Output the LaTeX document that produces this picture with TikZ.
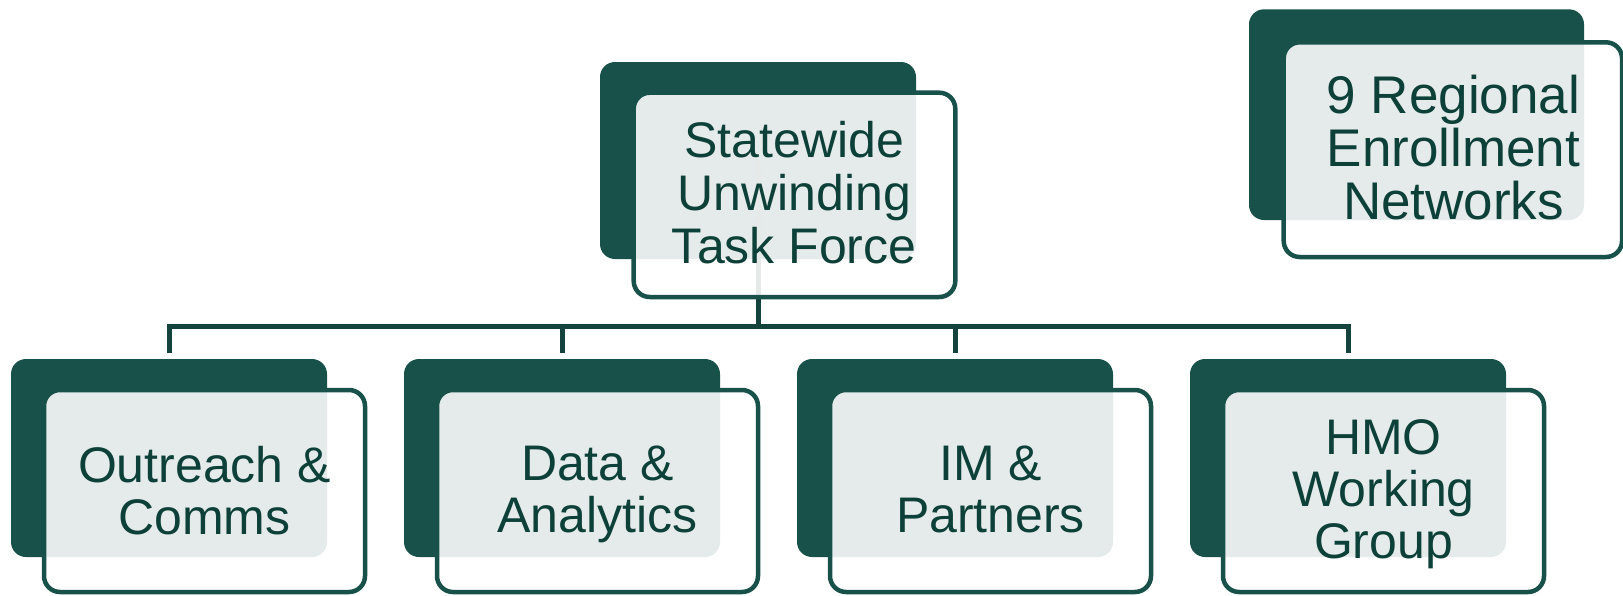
\documentclass[tikz,border=0pt]{standalone}
\usepackage{fontspec}
\setmainfont{Liberation Sans}
\usetikzlibrary{calc}
\definecolor{dk}{RGB}{24,81,74}
\definecolor{ln}{RGB}{20,66,60}
\definecolor{tx}{RGB}{12,64,56}
\begin{document}
\begin{tikzpicture}[x=1pt,y=-1pt,
  back/.style={rectangle, draw=none, fill=dk, rounded corners=15pt, inner sep=0pt, outer sep=0pt},
  front/.style={rectangle, draw=dk, line width=4.5pt, fill=white, fill opacity=0.89, draw opacity=1, rounded corners=16pt, inner sep=0pt, outer sep=0pt},
  lbl/.style={text=tx, align=center, inner sep=0pt, anchor=north},
  conn/.style={draw=ln, line width=5pt}]
\useasboundingbox (0,0) rectangle (1623,595);
% back (dark) boxes
\node[back, minimum width=316pt, minimum height=197pt] (tb) at (758,160.5) {};
\node[back, minimum width=335pt, minimum height=210.7pt] (rb) at (1416.5,114.65) {};
\node[back, minimum width=316pt, minimum height=198pt] (b1) at (169,458) {};
\node[back, minimum width=316pt, minimum height=198pt] (b2) at (562,458) {};
\node[back, minimum width=316pt, minimum height=198pt] (b3) at (955,458) {};
\node[back, minimum width=316pt, minimum height=198pt] (b4) at (1348,458) {};
% connectors
\coordinate (bus) at (0,326);
\coordinate (t1) at ($(b1.north)+(0,-6)$);
\coordinate (t2) at ($(b2.north)+(0,-6)$);
\coordinate (t3) at ($(b3.north)+(0,-6)$);
\coordinate (t4) at ($(b4.north)+(0,-6)$);
\draw[conn] (t1) |- (t4 |- bus) -- (t4);
\draw[conn] (tb.center) -- (tb.center |- bus);
\draw[conn] (t2) -- (t2 |- bus);
\draw[conn] (t3) -- (t3 |- bus);
% front boxes
\node[front, minimum width=321.6pt, minimum height=204.3pt] (tf) at (794.5,194.85) {};
\node[front, minimum width=338.3pt, minimum height=214.7pt] (rf) at (1452.85,149.65) {};
\node[front, minimum width=321pt, minimum height=202pt] (f1) at (204.5,491) {};
\node[front, minimum width=321pt, minimum height=202pt] (f2) at (597.5,491) {};
\node[front, minimum width=321pt, minimum height=202pt] (f3) at (990.5,491) {};
\node[front, minimum width=321pt, minimum height=202pt] (f4) at (1383.5,491) {};
% labels
\node[lbl, font=\fontsize{50}{53}\selectfont] (lt) at (794.2,120.7) {Statewide\\Unwinding\\Task Force};
\node[lbl, font=\fontsize{53}{53}\selectfont] (lr) at (1453.5,75) {9 Regional\\Enrollment\\Networks};
\node[lbl, font=\fontsize{50}{52}\selectfont] (l1) at (204.5,446) {Outreach \&\\Comms};
\node[lbl, font=\fontsize{50}{52}\selectfont] (l2) at (597.5,446) {Data \&\\Analytics};
\node[lbl, font=\fontsize{50}{52}\selectfont] (l3) at (990.5,446) {IM \&\\Partners};
\node[lbl, font=\fontsize{50}{52}\selectfont] (l4) at (1383.5,419) {HMO\\Working\\Group};
\end{tikzpicture}
\end{document}
